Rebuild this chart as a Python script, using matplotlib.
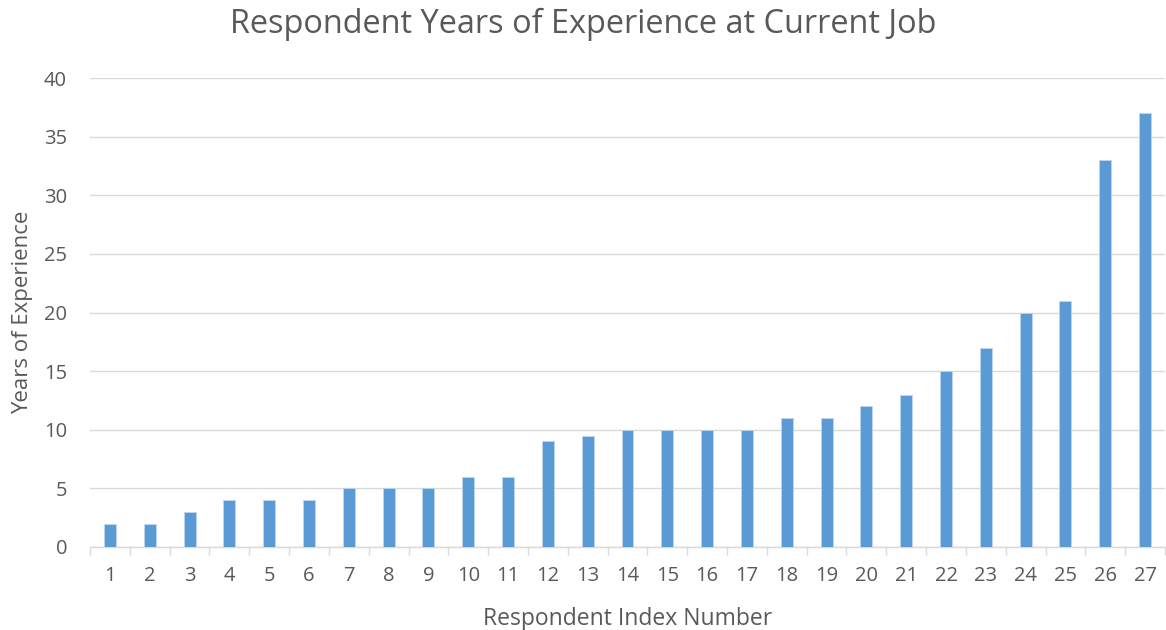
import matplotlib
matplotlib.use("Agg")
import matplotlib.pyplot as plt
import numpy as np

respondents = [str(i) for i in range(1, 28)]
years = [2, 2, 3, 4, 4, 4, 5, 5, 5, 6, 6, 9, 9.5, 10, 10, 10, 10, 11, 11, 12, 13, 15, 17, 20, 21, 33, 37]
yticks = [0, 5, 10, 15, 20, 25, 30, 35, 40]

plt.rcParams['font.family'] = ['Open Sans', 'DejaVu Sans']
text_color = '#595959'

fig = plt.figure(figsize=(11.66, 6.3), dpi=100)
ax = fig.add_axes([90/1166, 1 - 547/630, (1165 - 90)/1166, (547 - 78)/630])

x = np.arange(len(respondents))
ax.bar(x, years, width=0.3, color='#5B9BD5', edgecolor='#BDD7EE', linewidth=0.6, zorder=3)

ax.set_xlim(-0.5, len(respondents) - 0.5)
ax.set_ylim(0, 40)
ax.set_yticks(yticks)
ax.set_yticklabels([str(v) for v in yticks], color=text_color, fontsize=14.5)
ax.tick_params(axis='y', length=0, pad=16.5)
ax.grid(axis='y', color='#D9D9D9', linewidth=1.0, zorder=0)

ax.set_xticks(x)
ax.set_xticklabels(respondents, color=text_color, fontsize=14.5)
ax.tick_params(axis='x', length=0, pad=14)
ax.set_xticks(np.arange(len(respondents) + 1) - 0.5, minor=True)
ax.tick_params(axis='x', which='minor', length=6, color='#D9D9D9', width=1)

for s in ['top', 'right', 'left']:
    ax.spines[s].set_visible(False)
ax.spines['bottom'].set_color('#D9D9D9')
ax.spines['bottom'].set_linewidth(1.0)

ax.set_xlabel('Respondent Index Number', color=text_color, fontsize=16.5, labelpad=15)
ax.set_ylabel('Years of Experience', color=text_color, fontsize=16)
ax.yaxis.set_label_coords(-57/1075, 0.5)
fig.text(0.5, 1 - 24/630, 'Respondent Years of Experience at Current Job', ha='center', va='center',
         color=text_color, fontsize=23.4)

fig.savefig('out.png', dpi=100, facecolor='white')
